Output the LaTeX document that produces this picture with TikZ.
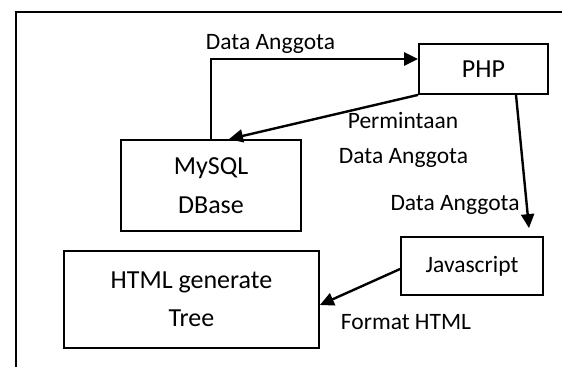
\documentclass[tikz,border=0pt]{standalone}
\usepackage{fontspec}
\setmainfont{Carlito}
\usetikzlibrary{arrows.meta}
\begin{document}
\begin{tikzpicture}[x=1pt,y=-1pt,
  box/.style={draw=black,line width=1.8pt,rectangle,inner sep=0pt,align=center,font=\fontsize{26}{38}\selectfont},
  lbl/.style={inner sep=0pt,anchor=base,font=\fontsize{23.5}{28}\selectfont},
  arr/.style={line width=2.4pt,-{Triangle[length=14pt,width=13pt]}}]
\useasboundingbox (0,0) rectangle (562,367);
% frame
\draw[line width=1.6pt] (562,11.7) -- (15.7,11.7) -- (15.7,367);
% boxes
\node[box,minimum width=129pt,minimum height=50pt] (php) at (483.5,69) {\raisebox{-4.5pt}{PHP}};
\node[box,minimum width=180pt,minimum height=91pt,font=\fontsize{26}{39}\selectfont] (mysql) at (211,185.5) {MySQL\\DBase};
\node[box,minimum width=142pt,minimum height=58pt,font=\fontsize{23.5}{28}\selectfont] (js) at (472,266) {Javascript};
\node[box,minimum width=255pt,minimum height=97pt] (html) at (191.5,299.5) {HTML generate\\Tree};
% connectors
\draw[arr] (mysql.north) |- ([yshift=10pt]php.west);
\draw[arr] (php.south west) -- ([xshift=18pt]mysql.north);
\draw[arr] ([xshift=32.5pt]php.south) -- ([xshift=57pt,yshift=8pt]js.north);
\draw[arr] ([yshift=-3pt]js.west) -- ([yshift=-5.5pt]html.east);
% labels
\node[lbl] (l1) at (270.5,49) {Data Anggota};
\node[lbl] (l2) at (403,128) {Permintaan};
\node[lbl] (l3) at (403.5,163) {Data Anggota};
\node[lbl] (l4) at (455,210) {Data Anggota};
\node[lbl] (l5) at (406,329) {Format HTML};
\end{tikzpicture}
\end{document}
